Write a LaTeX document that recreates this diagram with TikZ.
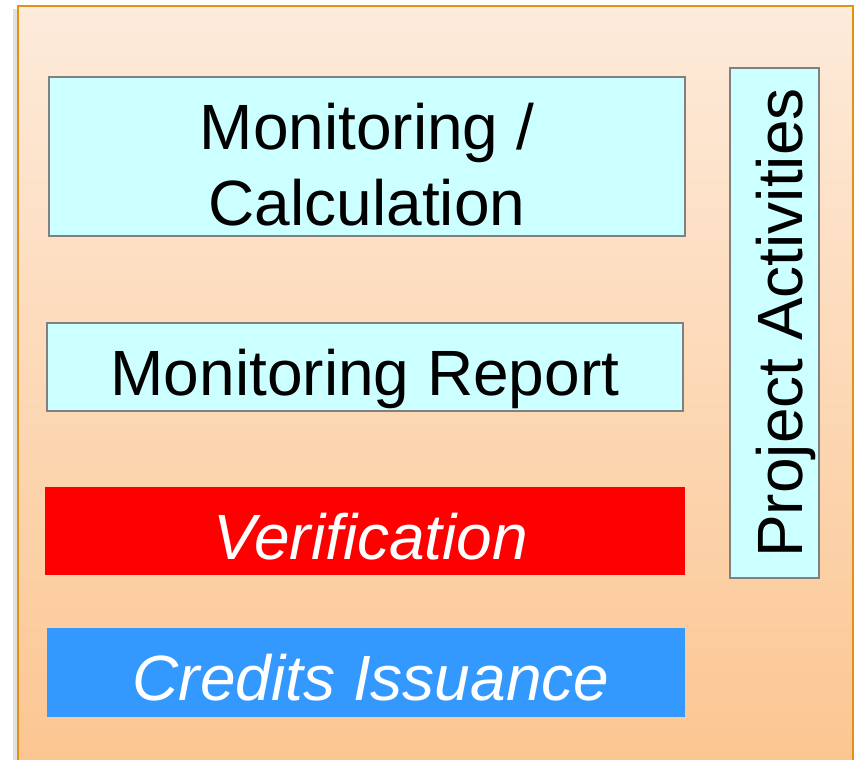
\documentclass[tikz,border=0pt]{standalone}
\usepackage{fontspec}
\setmainfont{Liberation Sans}
\definecolor{panelTop}{RGB}{253,235,219}
\definecolor{panelBottom}{RGB}{252,198,146}
\definecolor{panelLine}{RGB}{228,146,22}
\definecolor{boxCyan}{RGB}{204,255,255}
\definecolor{boxRed}{RGB}{255,0,0}
\definecolor{boxBlue}{RGB}{51,153,255}
\begin{document}
\begin{tikzpicture}[x=0.5pt,y=-0.5pt,
    stepbox/.style={draw=black!50, line width=1pt, fill=boxCyan, inner sep=0pt,
      align=center, font=\fontsize{32}{38}\selectfont},
    oneline/.style={text height=28pt, text depth=0pt},
    stagebox/.style={inner sep=0pt, text=white, oneline,
      font=\fontsize{32}{38}\selectfont\itshape}]
  \useasboundingbox (0,0) rectangle (857,760);
  % panel
  \fill[black!12] (13,9) rectangle (18,760);
  \shade[top color=panelTop, bottom color=panelBottom] (18,6) rectangle (853,760);
  \draw[panelLine, line width=1pt] (18,762) -- (18,6) -- (853,6) -- (853,762);
  % stages
  \node[stepbox, text height=69pt, text depth=0pt, minimum width=318pt, minimum height=79.5pt] (calc) at (367,156.5) {Monitoring /\\Calculation};
  \node[stepbox, oneline, minimum width=318pt, minimum height=44pt] (report) at (365,367) {Monitoring Report};
  \node[stagebox, fill=boxRed, minimum width=320pt, minimum height=44pt] (verif) at (365,531) {\hspace{6pt}Verification};
  \node[stagebox, fill=boxBlue, minimum width=319pt, minimum height=44.5pt] (issue) at (366,672.5) {\hspace{5pt}Credits Issuance};
  \node[stepbox, oneline, rotate=90, minimum width=255pt, minimum height=44.5pt] (activ) at (774.5,323) {Project Activities};
\end{tikzpicture}
\end{document}
